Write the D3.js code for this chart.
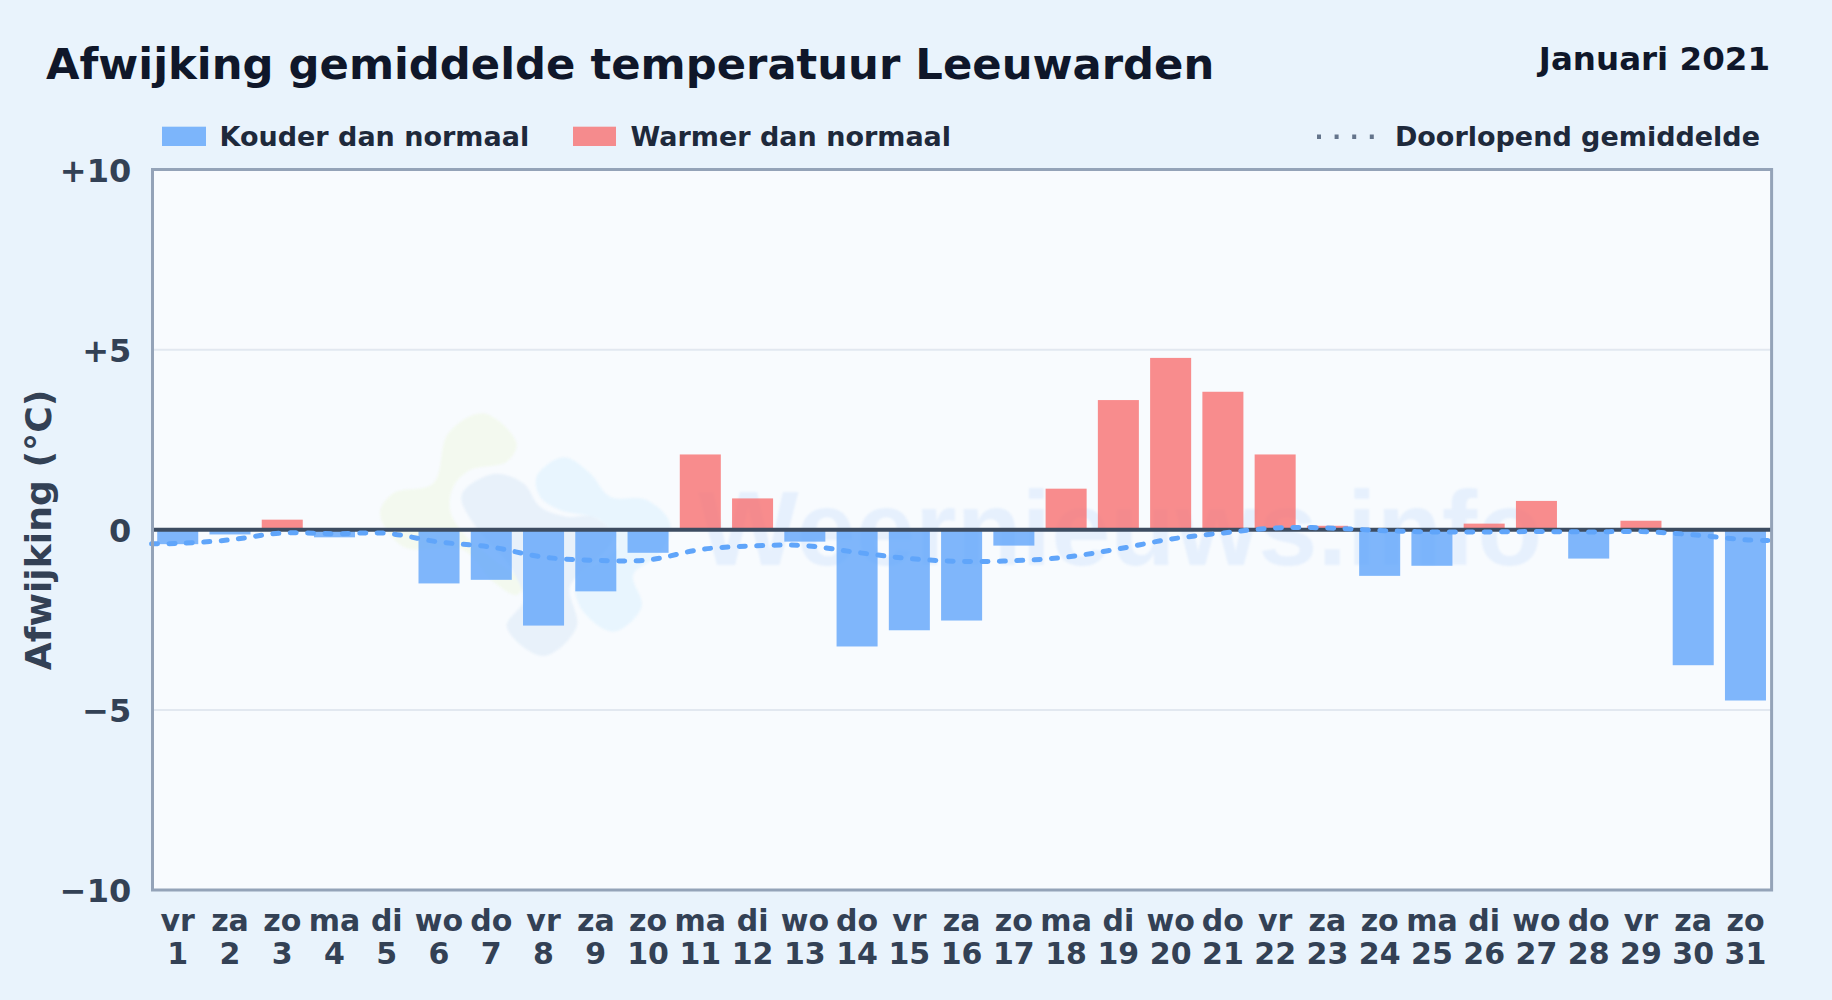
<!DOCTYPE html>
<html>
<head>
<meta charset="utf-8">
<script src="https://cdn.jsdelivr.net/npm/d3@7"></script>
<style>
  html, body { margin: 0; padding: 0; background: #e9f3fc; }
  svg { display: block; }
  text { font-family: "DejaVu Sans", sans-serif; font-weight: 700; }
</style>
</head>
<body>
<svg id="chart" width="1832" height="1000"></svg>
<script>
// waarden
const dayNames = ["vr","za","zo","ma","di","wo","do","vr","za","zo","ma","di","wo","do","vr","za","zo","ma","di","wo","do","vr","za","zo","ma","di","wo","do","vr","za","zo"];
const dayNumbers = [1,2,3,4,5,6,7,8,9,10,11,12,13,14,15,16,17,18,19,20,21,22,23,24,25,26,27,28,29,30,31];
const anomalies = [-0.4,-0.13,0.28,-0.21,0,-1.49,-1.39,-2.66,-1.71,-0.64,2.09,0.87,-0.33,-3.24,-2.79,-2.52,-0.44,1.14,3.6,4.77,3.83,2.09,0.11,-1.28,-1.0,0.17,0.8,-0.8,0.25,-3.76,-4.74];
const runningDays = [0.5,1,2,3,4,5,6,7,8,9,10,11,12,13,14,15,16,17,18,19,20,21,22,23,24,25,26,27,28,29,30,31,31.43];
const runningMean = [-0.39,-0.38,-0.28,-0.09,-0.11,-0.10,-0.34,-0.48,-0.76,-0.85,-0.84,-0.55,-0.45,-0.44,-0.63,-0.80,-0.88,-0.86,-0.76,-0.53,-0.26,-0.09,0.05,0.05,-0.02,-0.06,-0.06,-0.05,-0.06,-0.05,-0.14,-0.28,-0.30];
const yTicks = [10,5,0,-5,-10];
const gridTicks = [5,-5];

const svg = d3.select("#chart");
const margin = { top: 169.5, right: 60.4, bottom: 110, left: 151.6 };
const width = 1832 - margin.left - margin.right;
const height = 1000 - margin.top - margin.bottom;

// achtergrond
svg.append("rect").attr("width", 1832).attr("height", 1000).attr("fill", "#e9f3fc");

svg.append("text").attr("x", 46).attr("y", 79).attr("font-size", 43.3).attr("fill", "#0f172a")
  .text("Afwijking gemiddelde temperatuur Leeuwarden");
svg.append("text").attr("x", 1770).attr("y", 70).attr("text-anchor", "end").attr("font-size", 32.5).attr("fill", "#0f172a")
  .text("Januari 2021");

const g = svg.append("g").attr("transform", `translate(${margin.left},${margin.top})`);

const x = d3.scaleBand().domain(dayNumbers).range([0, width]).paddingInner(0.215).paddingOuter(0.1075);
const xDay = d3.scaleLinear().domain([0.5, 31.5]).range([0, width]);
const y = d3.scaleLinear().domain([-10, 10]).range([height, 0]);

// plotvlak begint iets rechts van de eerste band
const frameLeft = 0.9;
g.append("rect").attr("x", frameLeft).attr("width", width - frameLeft).attr("height", height).attr("fill", "#f8fbfe");

// watermerk
const blobs = [
  { fill: "#f3f9ef", pts: [[265,100],[370,40],[470,130],[440,185],[330,210],[280,260],[270,330],[310,400],[400,480],[490,550],[470,585],[400,545],[310,450],[130,440],[60,340],[100,280],[220,250]] },
  { fill: "#e8f1fa", pts: [[305,285],[400,222],[490,250],[540,320],[620,350],[700,350],[760,410],[700,490],[630,560],[650,680],[550,768],[440,680],[490,600],[450,500],[350,385]] },
  { fill: "#e8f5fe", pts: [[530,230],[610,172],[690,220],[750,290],[860,300],[930,370],[900,460],[820,525],[845,620],[760,695],[660,620],[650,540],[770,440],[720,360],[600,330],[540,290]] }
];
const blobLine = d3.line().x(d => 360 + d[0] / 3 - margin.left).y(d => 400 + d[1] / 3 - margin.top).curve(d3.curveCatmullRomClosed.alpha(0.5));
const mark = g.append("g").style("filter", "blur(1px)");
mark.selectAll(".blob").data(blobs).join("path")
  .attr("class", "blob")
  .attr("d", d => blobLine(d.pts))
  .attr("fill", d => d.fill);
mark.append("text").attr("x", 698 - margin.left).attr("y", 565 - margin.top)
  .attr("font-size", 106.5).attr("fill", "#3b82f6").attr("fill-opacity", 0.09)
  .style("font-family", "'Liberation Sans'")
  .text("Weernieuws.info");

// rasterlijnen
g.selectAll(".grid").data(gridTicks).join("line")
  .attr("class", "grid")
  .attr("x1", frameLeft).attr("x2", width)
  .attr("y1", d => y(d)).attr("y2", d => y(d))
  .attr("stroke", "#e2e8f0").attr("stroke-width", 2);

// staven
g.selectAll(".bar").data(anomalies).join("rect")
  .attr("class", "bar")
  .attr("x", (d, i) => x(dayNumbers[i]))
  .attr("width", x.bandwidth())
  .attr("y", d => y(Math.max(d, 0)))
  .attr("height", d => Math.abs(y(d) - y(0)))
  .attr("fill", d => d < 0 ? "#60a5fa" : "#f87171")
  .attr("fill-opacity", 0.8);

g.append("line").attr("x1", frameLeft).attr("x2", width).attr("y1", y(0)).attr("y2", y(0))
  .attr("stroke", "#3d4c61").attr("stroke-width", 4);

// doorlopend gemiddelde
const line = d3.line().x(d => xDay(d[0])).y(d => y(d[1])).curve(d3.curveCatmullRom.alpha(0.5));
g.append("path").datum(runningDays.map((d, i) => [d, runningMean[i]]))
  .attr("d", line)
  .attr("fill", "none").attr("stroke", "#60a5fa").attr("stroke-width", 5)
  .attr("stroke-linecap", "round").attr("stroke-dasharray", "6 11.4");

g.append("rect").attr("x", frameLeft).attr("width", width - frameLeft).attr("height", height)
  .attr("fill", "none").attr("stroke", "#94a3b8").attr("stroke-width", 3);

// assen
const yAxis = d3.axisLeft(y).tickValues(yTicks).tickSize(0).tickPadding(20.4)
  .tickFormat(d => d > 0 ? "+" + d : d < 0 ? "\u2212" + Math.abs(d) : "0");
g.append("g").call(yAxis).call(a => {
  a.select(".domain").remove();
  a.selectAll("text").attr("font-size", 32).attr("fill", "#334155").attr("dy", "0.36em")
    .style("font-family", "'DejaVu Sans'").style("font-weight", 700);
});

const xAxis = d3.axisBottom(x).tickSize(0).tickFormat("");
g.append("g").attr("transform", `translate(0,${height})`).call(xAxis).call(a => {
  a.select(".domain").remove();
  a.selectAll(".tick text").each(function(d, i) {
    const t = d3.select(this).attr("y", 0).attr("dy", null).attr("font-size", 30).attr("fill", "#334155");
    t.append("tspan").attr("x", 0).attr("y", 41).text(dayNames[i]);
    t.append("tspan").attr("x", 0).attr("y", 74).text(dayNumbers[i]);
  });
});

svg.append("text")
  .attr("transform", "translate(50.5,530) rotate(-90)")
  .attr("text-anchor", "middle").attr("font-size", 36.2).attr("fill", "#334155")
  .text("Afwijking (°C)");

// legenda
const legendItems = [
  { label: "Kouder dan normaal", color: "#60a5fa", sx: 162, sw: 44, tx: 219.5 },
  { label: "Warmer dan normaal", color: "#f87171", sx: 573, sw: 43, tx: 630.5 }
];
const legend = svg.append("g");
legend.selectAll("rect").data(legendItems).join("rect")
  .attr("x", d => d.sx).attr("y", 126.7).attr("width", d => d.sw).attr("height", 19.3)
  .attr("fill", d => d.color).attr("fill-opacity", 0.8);
legend.selectAll("text").data(legendItems).join("text")
  .attr("x", d => d.tx).attr("y", 146).attr("font-size", 27).attr("fill", "#1e293b")
  .text(d => d.label);
legend.append("line").attr("x1", 1317).attr("x2", 1374).attr("y1", 136.7).attr("y2", 136.7)
  .attr("stroke", "#64748b").attr("stroke-width", 4.5).attr("stroke-dasharray", "4 13.6");
legend.append("text").attr("x", 1760).attr("y", 146).attr("text-anchor", "end").attr("font-size", 27).attr("fill", "#1e293b")
  .text("Doorlopend gemiddelde");
</script>
</body>
</html>
